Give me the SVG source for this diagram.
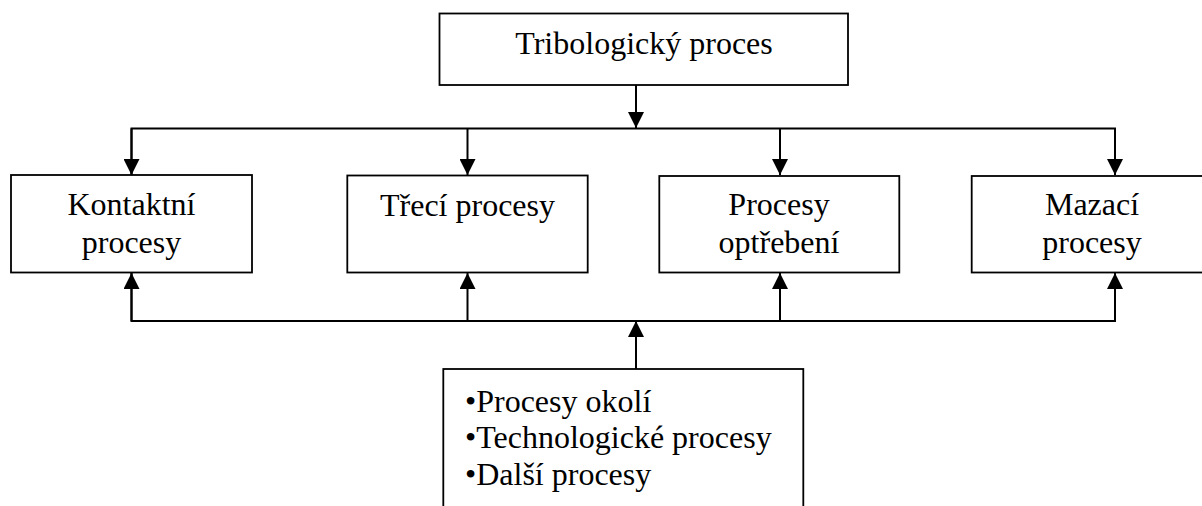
<svg xmlns="http://www.w3.org/2000/svg" width="1202" height="506" viewBox="0 0 1202 506">
<style>
.box{fill:#fff;stroke:#000;stroke-width:1.8}
.ln{fill:none;stroke:#000;stroke-width:2}
</style>
<defs>
<marker id="ah" markerUnits="userSpaceOnUse" markerWidth="16" markerHeight="16" viewBox="0 0 16 16" refX="16" refY="8" orient="auto">
<path d="M0,0 L16,8 L0,16 Z" fill="#000"/>
</marker>
</defs>
<rect width="1202" height="506" fill="#fff"/>
<g id="connectors">
<line class="ln" x1="636" y1="85" x2="636" y2="128" marker-end="url(#ah)"/>
<polyline class="ln" points="131.5,175 131.5,128.5 1115,128.5 1115,175"/>
<line class="ln" x1="131.5" y1="128.5" x2="131.5" y2="175" marker-end="url(#ah)"/>
<line class="ln" x1="467.5" y1="128.5" x2="467.5" y2="175" marker-end="url(#ah)"/>
<line class="ln" x1="780" y1="128.5" x2="780" y2="175" marker-end="url(#ah)"/>
<line class="ln" x1="1115" y1="128.5" x2="1115" y2="175" marker-end="url(#ah)"/>
<polyline class="ln" points="131.5,273 131.5,321 1115,321 1115,273"/>
<line class="ln" x1="131.5" y1="321" x2="131.5" y2="273" marker-end="url(#ah)"/>
<line class="ln" x1="467.5" y1="321" x2="467.5" y2="273" marker-end="url(#ah)"/>
<line class="ln" x1="780" y1="321" x2="780" y2="273" marker-end="url(#ah)"/>
<line class="ln" x1="1115" y1="321" x2="1115" y2="273" marker-end="url(#ah)"/>
<line class="ln" x1="636" y1="369" x2="636" y2="321" marker-end="url(#ah)"/>
</g>
<g font-family="Liberation Serif, DejaVu Serif, serif" font-size="32" fill="#000">
<g id="tribologicky">
<rect class="box" x="439.5" y="13.5" width="408.5" height="71.5"/>
<text text-anchor="middle" x="644" y="54">Tribologický proces</text>
</g>
<g id="kontaktni">
<rect class="box" x="11" y="175" width="241" height="97.5"/>
<text text-anchor="middle" x="131.5" y="215">Kontaktní</text>
<text text-anchor="middle" x="131.5" y="253">procesy</text>
</g>
<g id="treci">
<rect class="box" x="347.3" y="175.5" width="240.4" height="97"/>
<text text-anchor="middle" x="467.5" y="216">Třecí procesy</text>
</g>
<g id="opotrebeni">
<rect class="box" x="659.3" y="176" width="240" height="96.5"/>
<text text-anchor="middle" x="779" y="215">Procesy</text>
<text text-anchor="middle" x="779" y="253">optřebení</text>
</g>
<g id="mazaci">
<rect class="box" x="971.7" y="176" width="240" height="96.5"/>
<text text-anchor="middle" x="1092" y="215">Mazací</text>
<text text-anchor="middle" x="1092" y="253">procesy</text>
</g>
<g id="okoli">
<rect class="box" x="443.3" y="369" width="360" height="200"/>
<text x="465" y="411.5">•Procesy okolí</text>
<text x="465" y="448.3">•Technologické procesy</text>
<text x="465" y="485">•Další procesy</text>
</g>
</g>
</svg>
